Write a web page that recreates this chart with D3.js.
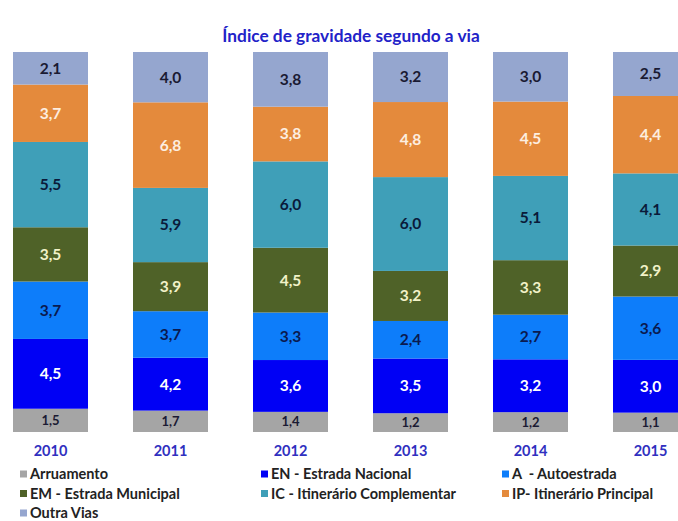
<!DOCTYPE html>
<html>
<head>
<meta charset="utf-8">
<script src="https://cdn.jsdelivr.net/npm/d3@7"></script>
<style>
    body { margin: 0; background: #fff; }
    text { font-family: Lato, "Open Sans", sans-serif; font-weight: bold; }
</style>
</head>
<body>
<div id="chart"></div>
<script>
// anos
const years = ["2010", "2011", "2012", "2013", "2014", "2015"];

// tipos de via (de baixo para cima)
const vias = ["Arruamento", "EN - Estrada Nacional", "A  - Autoestrada",
    "EM - Estrada Municipal", "IC - Itinerário Complementar", "IP- Itinerário Principal", "Outra Vias"];

// índice de gravidade por via, um array por ano
const v2010 = [1.5, 4.5, 3.7, 3.5, 5.5, 3.7, 2.1];
const v2011 = [1.7, 4.2, 3.7, 3.9, 5.9, 6.8, 4.0];
const v2012 = [1.4, 3.6, 3.3, 4.5, 6.0, 3.8, 3.8];
const v2013 = [1.2, 3.5, 2.4, 3.2, 6.0, 4.8, 3.2];
const v2014 = [1.2, 3.2, 2.7, 3.3, 5.1, 4.5, 3.0];
const v2015 = [1.1, 3.0, 3.6, 2.9, 4.1, 4.4, 2.5];
const values = [v2010, v2011, v2012, v2013, v2014, v2015];

const colors = ["#a5a5a5", "#0000f5", "#0d7dfa", "#4f6228", "#3f9fb8", "#e48a3c", "#95a6cf"];
const labelColors = ["#1a1a33", "#ffffff", "#0a1a50", "#f2f2c8", "#0a1a3a", "#fdeee0", "#1a1a33"];

const W = 678, H = 521;

const svg = d3.select("#chart").append("svg")
    .attr("width", W)
    .attr("height", H);

// tabela para o stack
const table = years.map((y, i) => {
    const row = { year: y };
    vias.forEach((v, j) => row[v] = values[i][j]);
    return row;
});

const series = d3.stack()
    .keys(vias)
    .offset(d3.stackOffsetExpand)(table);

const x = d3.scaleBand()
    .domain(years)
    .range([-9.5, 710.5])
    .paddingInner(0.375)
    .paddingOuter(0.1875);

const y = d3.scaleLinear()
    .domain([0, 1])
    .range([432, 52]);

// titulo
svg.append("text")
    .attr("x", 351)
    .attr("y", 42)
    .attr("text-anchor", "middle")
    .attr("fill", "#2222c8")
    .attr("font-size", 17.3)
    .text("Índice de gravidade segundo a via");

// barras
const layer = svg.selectAll(".layer")
    .data(series)
    .enter().append("g")
    .attr("class", "layer")
    .attr("fill", (d, i) => colors[i]);

layer.selectAll("rect")
    .data(d => d)
    .enter().append("rect")
    .attr("x", d => x(d.data.year))
    .attr("y", d => y(d[1]))
    .attr("width", x.bandwidth())
    .attr("height", d => y(d[0]) - y(d[1]));

// rotulos dos valores
series.forEach((s, i) => {
    svg.selectAll(".lbl-" + i)
        .data(s)
        .enter().append("text")
        .attr("class", "lbl-" + i)
        .attr("x", d => x(d.data.year) + x.bandwidth() / 2)
        .attr("y", d => (y(d[0]) + y(d[1])) / 2)
        .attr("dy", "0.35em")
        .attr("text-anchor", "middle")
        .attr("font-size", i === 0 ? 13 : 15.5)
        .attr("fill", labelColors[i])
        .text(d => d3.format(".1f")(d.data[s.key]).replace(".", ","));
});

// eixo x
const xAxis = svg.append("g")
    .attr("transform", "translate(0,432)")
    .call(d3.axisBottom(x).tickSize(0).tickPadding(14));
xAxis.select(".domain").remove();
xAxis.selectAll("text")
    .attr("font-size", 14.5)
    .attr("fill", "#3030c0")
    .style("font-family", "Lato, sans-serif")
    .style("font-weight", "bold");

// legenda
const legend = svg.selectAll(".legend")
    .data(vias)
    .enter().append("g")
    .attr("class", "legend")
    .attr("transform", (d, i) => `translate(${20 + (i % 3) * 241},${474 + Math.floor(i / 3) * 19.5})`);

legend.append("rect")
    .attr("x", 0)
    .attr("y", -3.5)
    .attr("width", 7)
    .attr("height", 7)
    .attr("fill", (d, i) => colors[i]);

legend.append("text")
    .attr("x", 10)
    .attr("dy", "0.35em")
    .attr("font-size", 14.5)
    .attr("fill", "#222")
    .style("white-space", "pre")
    .text(d => d);
</script>
</body>
</html>
